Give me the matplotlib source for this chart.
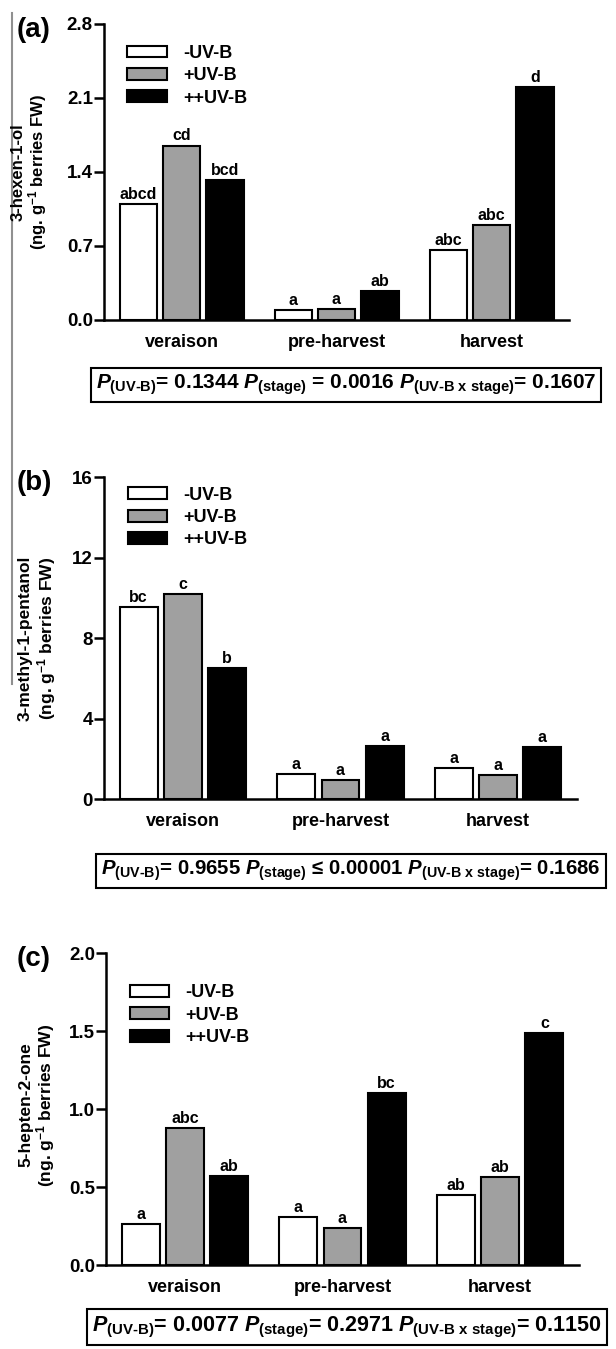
import matplotlib
matplotlib.use("Agg")
import matplotlib.pyplot as plt
from matplotlib.lines import Line2D
import numpy as np

plt.rcParams['font.family'] = ['Liberation Sans', 'DejaVu Sans']
plt.rcParams['font.weight'] = 'bold'
plt.rcParams['mathtext.fontset'] = 'custom'
plt.rcParams['mathtext.rm'] = 'Liberation Sans:bold'
plt.rcParams['mathtext.it'] = 'Liberation Sans:italic:bold'
plt.rcParams['mathtext.bf'] = 'Liberation Sans:bold'

# ---------------- data ----------------
stages = ['veraison', 'pre-harvest', 'harvest']
treatments = ['-UV-B', '+UV-B', '++UV-B']
colors = ['white', '#a0a0a0', 'black']

hexenol_minus = [1.10, 0.09, 0.66]
hexenol_plus = [1.65, 0.10, 0.90]
hexenol_pp = [1.32, 0.27, 2.20]
hexenol_let_minus = ['abcd', 'a', 'abc']
hexenol_let_plus = ['cd', 'a', 'abc']
hexenol_let_pp = ['bcd', 'ab', 'd']

methyl_minus = [9.52, 1.24, 1.52]
methyl_plus = [10.18, 0.96, 1.20]
methyl_pp = [6.50, 2.61, 2.58]
methyl_let_minus = ['bc', 'a', 'a']
methyl_let_plus = ['c', 'a', 'a']
methyl_let_pp = ['b', 'a', 'a']

hepten_minus = [0.26, 0.31, 0.45]
hepten_plus = [0.88, 0.235, 0.565]
hepten_pp = [0.57, 1.10, 1.485]
hepten_let_minus = ['a', 'a', 'ab']
hepten_let_plus = ['abc', 'a', 'ab']
hepten_let_pp = ['ab', 'bc', 'c']

yticks_a = [0.0, 0.7, 1.4, 2.1, 2.8]
yticks_b = [0, 4, 8, 12, 16]
yticks_c = [0.0, 0.5, 1.0, 1.5, 2.0]

ylab_a = '3-hexen-1-ol'
ylab_b = '3-methyl-1-pentanol'
ylab_c = '5-hepten-2-one'
ylab_unit = r'(ng. g$^{\mathbf{-1}}$ berries FW)'

p_a = r'$P_{\text{(UV-B)}}$= 0.1344 $P_{\text{(stage)}}$ = 0.0016 $P_{\text{(UV-B x stage)}}$= 0.1607'
p_b = r'$P_{\text{(UV-B)}}$= 0.9655 $P_{\text{(stage)}}$' + ' \u2264 0.00001 ' + r'$P_{\text{(UV-B x stage)}}$= 0.1686'
p_c = r'$P_{\text{(UV-B)}}$= 0.0077 $P_{\text{(stage)}}$= 0.2971 $P_{\text{(UV-B x stage)}}$= 0.1150'

W, H = 616, 1349
fig = plt.figure(figsize=(W / 100, H / 100), dpi=100)


def rect(l, r, t, b):
    return [l / W, 1 - b / H, (r - l) / W, (b - t) / H]


def panel(box, series, letters, yticks, fmt, label, ylab1, ylab_x, ycenter,
          ptext, pbox_xy, pfont, leg_anchor, ylab_fs):
    ax = fig.add_axes(rect(*box))
    x = np.arange(len(stages))
    width = 0.24
    step = 0.28
    for i, (vals, lets) in enumerate(zip(series, letters)):
        ax.bar(x + (i - 1) * step, vals, width, color=colors[i],
               edgecolor='black', linewidth=1.5, label=treatments[i], zorder=3)
        for xi, v, l in zip(x + (i - 1) * step, vals, lets):
            ax.annotate(l, (xi, v), xytext=(0, 1.5), textcoords='offset points',
                        ha='center', va='bottom', fontsize=11.5, fontweight='bold')
    ax.set_xlim(-0.5, 2.5)
    ax.set_ylim(yticks[0], yticks[-1])
    ax.set_yticks(yticks)
    ax.set_yticklabels([fmt.format(t) for t in yticks])
    ax.set_xticks(x)
    ax.set_xticklabels(stages)
    for s in ['top', 'right']:
        ax.spines[s].set_visible(False)
    for s in ['left', 'bottom']:
        ax.spines[s].set_linewidth(1.8)
    ax.tick_params(axis='y', direction='out', length=7, width=1.8, labelsize=13.5, pad=1)
    ax.tick_params(axis='x', length=0, labelsize=13, pad=10)
    ax.legend(loc='upper left', bbox_to_anchor=leg_anchor, frameon=False,
              fontsize=13, handlelength=2.2, handleheight=0.62, labelspacing=0.3,
              handletextpad=0.9, borderpad=0, borderaxespad=0)
    fig.text(34 / W, 1 - (box[2] + 6) / H, label, fontsize=20, fontweight='bold',
             ha='center', va='center')
    fig.text(ylab_x[0] / W, 1 - ycenter / H, ylab1, rotation=90, fontsize=ylab_fs,
             fontweight='bold', ha='center', va='center')
    fig.text(ylab_x[1] / W, 1 - ycenter / H, ylab_unit, rotation=90, fontsize=ylab_fs,
             fontweight='bold', ha='center', va='center')
    fig.text(pbox_xy[0] / W, 1 - pbox_xy[1] / H, ptext, fontsize=pfont,
             fontweight='bold', ha='center', va='center',
             bbox=dict(boxstyle='square,pad=0.25', fc='white', ec='black', lw=1.5))
    return ax


panel((104, 569, 24, 320), [hexenol_minus, hexenol_plus, hexenol_pp],
      [hexenol_let_minus, hexenol_let_plus, hexenol_let_pp], yticks_a, '{:.1f}',
      '(a)', ylab_a, (18, 38), 172, p_a, (346, 385), 15, (0.05, 0.93), 12)
panel((104, 577, 477, 799), [methyl_minus, methyl_plus, methyl_pp],
      [methyl_let_minus, methyl_let_plus, methyl_let_pp], yticks_b, '{:.0f}',
      '(b)', ylab_b, (25, 47), 638, p_b, (351, 871), 14.7, (0.05, 0.97), 12.5)
panel((106, 579, 953, 1265), [hepten_minus, hepten_plus, hepten_pp],
      [hepten_let_minus, hepten_let_plus, hepten_let_pp], yticks_c, '{:.1f}',
      '(c)', ylab_c, (26, 46), 1105, p_c, (347, 1327), 15.5, (0.05, 0.9), 12.5)

# scan artefact line on the left edge
fig.add_artist(Line2D([12 / W, 12 / W], [1 - 13 / H, 1 - 684 / H], color='#909090', lw=1.5))

fig.savefig('out.png', dpi=100, facecolor='white')
